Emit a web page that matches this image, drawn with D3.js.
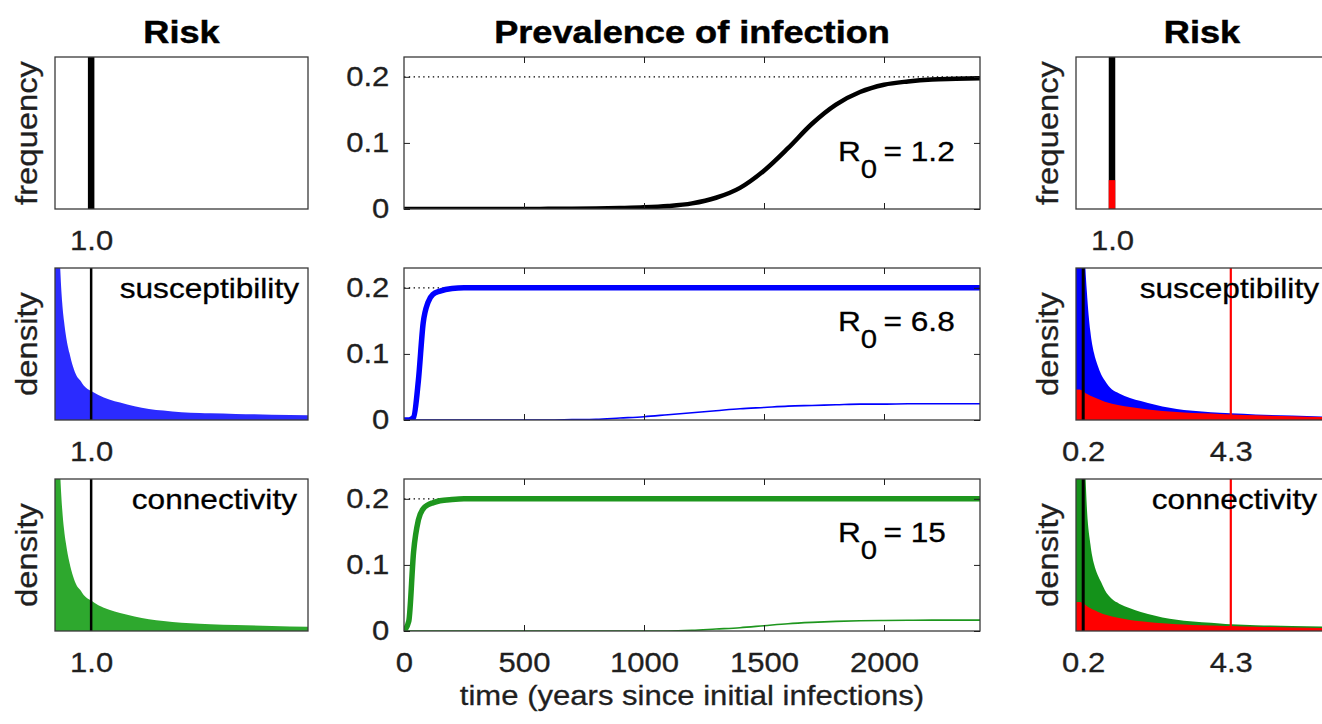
<!DOCTYPE html>
<html><head><meta charset="utf-8">
<script src="https://cdn.jsdelivr.net/npm/d3@7"></script>
<style>html,body{margin:0;padding:0;background:#fff;overflow:hidden}</style>
</head><body><svg id="c" width="1322" height="724"></svg>
<script>
// ---------------- DATA ----------------
// Risk grid (relative risk) shared by all distribution panels
const riskGrid = [0, 0.05, 0.1, 0.15, 0.2, 0.25, 0.3, 0.4, 0.5, 0.6, 0.7, 0.8, 1.0, 1.2, 1.5, 1.8, 2.2, 2.6, 3.0, 3.5, 4.0, 4.3, 5.0, 6.0, 7.0];
// Left column densities (initial population)
const suscDensity = [3.0, 2.0, 1.3, 0.97, 0.77, 0.65, 0.56, 0.44, 0.35, 0.29, 0.26, 0.225, 0.19, 0.165, 0.135, 0.115, 0.09, 0.073, 0.062, 0.051, 0.046, 0.044, 0.04, 0.035, 0.032];
const connDensity = [3.0, 2.0, 1.3, 1.0, 0.8, 0.67, 0.58, 0.45, 0.36, 0.3, 0.27, 0.235, 0.2, 0.17, 0.14, 0.118, 0.095, 0.078, 0.066, 0.055, 0.048, 0.045, 0.04, 0.033, 0.028];
// Right column densities (at equilibrium): total and infected
const suscDensityEq = [3.0, 3.0, 2.5, 1.8, 1.35, 1.05, 0.85, 0.58, 0.44, 0.36, 0.3, 0.26, 0.2, 0.175, 0.145, 0.125, 0.1, 0.08, 0.066, 0.056, 0.048, 0.045, 0.037, 0.029, 0.022];
const suscInfectedEq = [0.2, 0.2, 0.2, 0.195, 0.19, 0.18, 0.172, 0.16, 0.15, 0.14, 0.13, 0.12, 0.107, 0.097, 0.085, 0.075, 0.064, 0.056, 0.05, 0.044, 0.04, 0.037, 0.031, 0.024, 0.018];
const connDensityEq = [3.0, 3.0, 2.6, 1.9, 1.4, 1.1, 0.82, 0.57, 0.44, 0.37, 0.32, 0.27, 0.21, 0.18, 0.15, 0.125, 0.1, 0.08, 0.068, 0.058, 0.05, 0.045, 0.038, 0.033, 0.028];
const connInfectedEq = [0.19, 0.19, 0.19, 0.188, 0.185, 0.175, 0.165, 0.15, 0.138, 0.127, 0.117, 0.108, 0.095, 0.085, 0.073, 0.064, 0.055, 0.048, 0.043, 0.038, 0.035, 0.033, 0.028, 0.023, 0.02];
// Homogeneous-risk row (frequency)
const homRisk = [1.0];
const homFreq = [1.0];
const homFreqInfected = [0.19];
// Mean-risk markers
const meanRiskInitial = [1.0];
const meanRiskSusceptibleEq = [0.2];
const meanRiskInfectedEq = [4.3];
// Tick labels
const riskTicksLeft = [1.0];
const riskTicksRight = [0.2, 4.3];
const timeTicks = [0, 500, 1000, 1500, 2000];
const prevTicks = [0, 0.1, 0.2];
// Prevalence time series
const timeGrid = [0, 20, 40, 60, 80, 100, 120, 150, 200, 250, 300, 400, 500, 600, 700, 800, 900, 1000, 1100, 1200, 1300, 1400, 1500, 1600, 1700, 1800, 1900, 2000, 2100, 2200, 2300, 2400];
const prevHom = [0, 0, 0, 0, 0, 0, 0, 0, 0, 0, 0, 0, 0, 0.0002, 0.0004, 0.0008, 0.0015, 0.0025, 0.0045, 0.0085, 0.017, 0.032, 0.058, 0.092, 0.129, 0.158, 0.177, 0.188, 0.193, 0.196, 0.197, 0.198];
const prevSusc = [0, 0, 0.004, 0.06, 0.147, 0.178, 0.19, 0.195, 0.199, 0.2, 0.2, 0.2, 0.2, 0.2, 0.2, 0.2, 0.2, 0.2, 0.2, 0.2, 0.2, 0.2, 0.2, 0.2, 0.2, 0.2, 0.2, 0.2, 0.2, 0.2, 0.2, 0.2];
const prevSuscFixed = [0, 0, 0, 0, 0, 0, 0, 0, 0, 0, 0, 0, 0, 0, 0.0005, 0.001, 0.003, 0.005, 0.008, 0.011, 0.014, 0.017, 0.019, 0.021, 0.022, 0.023, 0.024, 0.024, 0.0245, 0.0245, 0.0245, 0.0245];
const prevConn = [0, 0.015, 0.12, 0.168, 0.185, 0.191, 0.194, 0.197, 0.199, 0.2, 0.2, 0.2, 0.2, 0.2, 0.2, 0.2, 0.2, 0.2, 0.2, 0.2, 0.2, 0.2, 0.2, 0.2, 0.2, 0.2, 0.2, 0.2, 0.2, 0.2, 0.2, 0.2];
const prevConnFixed = [0, 0, 0, 0, 0, 0, 0, 0, 0, 0, 0, 0, 0, 0, 0, 0, 0, 0, 0, 0.001, 0.003, 0.005, 0.008, 0.011, 0.013, 0.0145, 0.0155, 0.016, 0.0163, 0.0165, 0.0165, 0.0165];
const equilibrium = [0.2];
const r0Labels = ["1.2", "6.8", "15"];
const titles = ["Risk", "Prevalence of infection", "Risk"];

// ---------------- LAYOUT ----------------
const FONT = "'Liberation Sans', Arial, Helvetica, sans-serif";
const SX = 1.13;
const INK = "#1f1f1f";
const svg = d3.select('#c');
const COL = { left: [55, 308], mid: [404, 980], right: [1076, 1328] };
const ROWTOP = [57, 268, 479];
const ROWH = 152;
const BLUE = "#0000ff", BLUE_L = "#2b2bff", GREEN = "#14921a", GREEN_L = "#2ea82e", GREEN_M = "#1e961e", RED = "#ff0000";

function txt(g, x, y, s, o = {}) {
  const t = g.append('text')
    .attr('transform', `translate(${x},${y})${o.rot ? ' rotate(-90)' : ''} scale(${o.sx || SX},1)`)
    .attr('text-anchor', o.anchor || 'middle')
    .style('font-family', FONT)
    .style('font-size', (o.size || 27.5) + 'px')
    .style('font-weight', o.weight || 'normal')
    .attr('fill', o.fill || INK)
    .attr('stroke', o.fill || INK).attr('stroke-width', o.weight === 'bold' ? 0.5 : 0.3);
  if (s !== null) t.text(s);
  return t;
}
let clipId = 0;
function panel(col, row) {
  const [x0, x1] = COL[col];
  const y0 = ROWTOP[row], y1 = y0 + ROWH;
  const id = 'clip' + (clipId++);
  svg.append('clipPath').attr('id', id).append('rect').attr('x', x0).attr('y', y0).attr('width', x1 - x0).attr('height', y1 - y0);
  const g = svg.append('g');
  const inner = g.append('g').attr('clip-path', `url(#${id})`);
  return { x0, x1, y0, y1, g, inner };
}
function frame(p) {
  p.g.append('rect').attr('x', p.x0).attr('y', p.y0).attr('width', p.x1 - p.x0).attr('height', p.y1 - p.y0)
    .attr('fill', 'none').attr('stroke', '#3a3a3a').attr('stroke-width', 1.3);
}
function styleAxisText(ax, size) {
  ax.select('.domain').remove();
  ax.selectAll('text').style('font-family', FONT).style('font-size', size + 'px')
    .attr('fill', INK).attr('stroke', INK).attr('stroke-width', 0.3);
}
function riskAxis(p, xs, ticks) {
  const ax = p.g.append('g').attr('transform', `translate(0,${p.y1})`)
    .call(d3.axisBottom(xs).tickValues(ticks).tickFormat(d3.format('.1f')).tickSizeInner(0).tickSizeOuter(0).tickPadding(21));
  styleAxisText(ax, 27.5);
  ax.selectAll('line').remove();
  ax.selectAll('text').attr('transform', `scale(${SX},1)`);
}
function ylabel(p, s) {
  txt(p.g, p.x0 - 18, (p.y0 + p.y1) / 2, s, { rot: true, size: 29 });
}

// ---------------- TITLES ----------------
[['left', 0], ['mid', 1], ['right', 2]].forEach(([c, i]) => {
  const [a, b] = COL[c];
  txt(svg, (a + b) / 2, 43, titles[i], { size: 32, weight: 'bold', fill: '#000' });
});

// ---------------- DISTRIBUTION PANELS ----------------
function distPanel(col, row, opts) {
  const p = panel(col, row);
  const xs = d3.scaleLinear().domain([0, 7]).range([p.x0, p.x1]);
  const ys = d3.scaleLinear().domain([0, 1]).range([p.y1, p.y0]);
  if (opts.freq) {
    const bw = 6.5;
    p.inner.selectAll('rect.all').data(homFreq).join('rect')
      .attr('x', (d, i) => xs(homRisk[i]) - bw / 2).attr('width', bw)
      .attr('y', d => ys(d)).attr('height', d => ys(0) - ys(d)).attr('fill', '#000');
    if (opts.infected) {
      p.inner.selectAll('rect.inf').data(opts.infected).join('rect')
        .attr('x', (d, i) => xs(homRisk[i]) - bw / 2).attr('width', bw)
        .attr('y', d => ys(d)).attr('height', d => ys(0) - ys(d)).attr('fill', RED);
    }
  } else {
    const area = d3.area().x((d, i) => xs(riskGrid[i])).y0(ys(0)).y1(d => ys(d)).curve(d3.curveMonotoneX);
    p.inner.append('path').datum(opts.total).attr('d', area).attr('fill', opts.color);
    if (opts.infected) p.inner.append('path').datum(opts.infected).attr('d', area).attr('fill', RED);
    (opts.blackMarks || []).forEach(v => {
      p.inner.append('line').attr('x1', xs(v)).attr('x2', xs(v)).attr('y1', p.y0).attr('y2', p.y1)
        .attr('stroke', '#000').attr('stroke-width', opts.blackW || 2.5);
    });
    (opts.redMarks || []).forEach(v => {
      p.inner.append('line').attr('x1', xs(v)).attr('x2', xs(v)).attr('y1', p.y0).attr('y2', p.y1)
        .attr('stroke', RED).attr('stroke-width', 2.2);
    });
    txt(p.g, p.x1 - opts.labelInset, p.y0 + 29.5, opts.label, { anchor: 'end', size: 28, fill: '#000' });
  }
  frame(p);
  riskAxis(p, xs, opts.ticks);
  ylabel(p, opts.freq ? 'frequency' : 'density');
}

distPanel('left', 0, { freq: true, ticks: riskTicksLeft });
distPanel('left', 1, { total: suscDensity, color: BLUE_L, blackMarks: meanRiskInitial, ticks: riskTicksLeft, label: 'susceptibility', labelInset: 9 });
distPanel('left', 2, { total: connDensity, color: GREEN_L, blackMarks: meanRiskInitial, ticks: riskTicksLeft, label: 'connectivity', labelInset: 11 });
distPanel('right', 0, { freq: true, infected: homFreqInfected, ticks: riskTicksLeft });
distPanel('right', 1, { total: suscDensityEq, infected: suscInfectedEq, color: BLUE, blackMarks: meanRiskSusceptibleEq, blackW: 3, redMarks: meanRiskInfectedEq, ticks: riskTicksRight, label: 'susceptibility', labelInset: 9 });
distPanel('right', 2, { total: connDensityEq, infected: connInfectedEq, color: GREEN, blackMarks: meanRiskSusceptibleEq, blackW: 3, redMarks: meanRiskInfectedEq, ticks: riskTicksRight, label: 'connectivity', labelInset: 11 });

// ---------------- PREVALENCE PANELS ----------------
function prevPanel(row, thick, thin, color, r0, r0y, lastRow) {
  const p = panel('mid', row);
  const xs = d3.scaleLinear().domain([0, 2400]).range([p.x0, p.x1]);
  const ys = d3.scaleLinear().domain([0, 0.23]).range([p.y1, p.y0]);
  p.inner.selectAll('line.eq').data(equilibrium).join('line')
    .attr('x1', xs(0)).attr('x2', xs(2400)).attr('y1', d => ys(d)).attr('y2', d => ys(d))
    .attr('stroke', '#000').attr('stroke-width', 1.4).attr('stroke-dasharray', '1.4,3.4');
  const line = d3.line().x((d, i) => xs(timeGrid[i])).y(d => ys(d)).curve(d3.curveMonotoneX);
  if (thin) p.inner.append('path').datum(thin).attr('d', line).attr('fill', 'none').attr('stroke', color).attr('stroke-width', 1.6);
  p.inner.append('path').datum(thick).attr('d', line).attr('fill', 'none').attr('stroke', color)
    .attr('stroke-width', color === '#000' ? 4.5 : 5.5).attr('stroke-linejoin', 'round');
  frame(p);
  // inward ticks on all sides
  const yl = p.g.append('g').attr('transform', `translate(${p.x0},0)`)
    .call(d3.axisLeft(ys).tickValues(prevTicks).tickFormat(d => d === 0 ? '0' : d3.format('.1f')(d)).tickSizeInner(-6).tickSizeOuter(0).tickPadding(13));
  styleAxisText(yl, 27.5);
  yl.selectAll('line').attr('stroke', INK);
  yl.selectAll('text').attr('transform', `scale(${SX},1)`);
  const yr = p.g.append('g').attr('transform', `translate(${p.x1},0)`)
    .call(d3.axisRight(ys).tickValues(prevTicks).tickSizeInner(-6).tickSizeOuter(0).tickFormat(''));
  yr.select('.domain').remove(); yr.selectAll('line').attr('stroke', INK);
  const xt = p.g.append('g').attr('transform', `translate(0,${p.y0})`)
    .call(d3.axisTop(xs).tickValues(timeTicks.slice(1)).tickSizeInner(-6).tickSizeOuter(0).tickFormat(''));
  xt.select('.domain').remove(); xt.selectAll('line').attr('stroke', INK);
  const xb = p.g.append('g').attr('transform', `translate(0,${p.y1})`)
    .call(d3.axisBottom(xs).tickValues(lastRow ? timeTicks : timeTicks.slice(1)).tickSizeInner(-6).tickSizeOuter(0).tickPadding(21)
      .tickFormat(lastRow ? d3.format('d') : ''));
  styleAxisText(xb, 27.5);
  xb.selectAll('line').attr('stroke', INK).filter(d => d === 0).remove();
  xb.selectAll('text').attr('transform', `scale(${SX},1)`);
  // R0 label
  const t = txt(p.g, 838, p.y0 + r0y, null, { anchor: 'start', size: 28, fill: '#000' });
  t.append('tspan').text('R');
  t.append('tspan').attr('dy', 17).style('font-size', '26px').text('0');
  t.append('tspan').attr('dy', -17).text('\u2009= ' + r0);
  if (lastRow) txt(svg, (p.x0 + p.x1) / 2, p.y1 + 73.5, 'time (years since initial infections)', { size: 27.5 });
}
prevPanel(0, prevHom, null, '#000', r0Labels[0], 103.7, false);
prevPanel(1, prevSusc, prevSuscFixed, BLUE, r0Labels[1], 63, false);
prevPanel(2, prevConn, prevConnFixed, GREEN_M, r0Labels[2], 62.7, true);
</script></body></html>
